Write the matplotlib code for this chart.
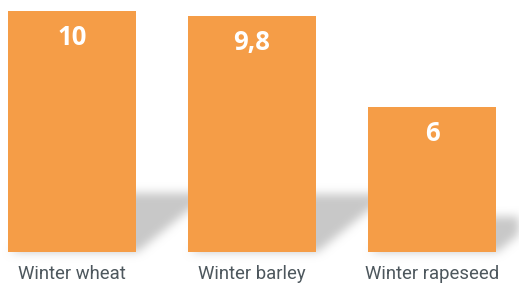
import matplotlib
matplotlib.use("Agg")
import matplotlib.pyplot as plt
from matplotlib.patches import Polygon
import numpy as np

# dados
culturas = ["Winter wheat", "Winter barley", "Winter rapeseed"]
valores = [10, 9.8, 6]
rotulos = ["10", "9,8", "6"]

cor_barra = "#F59D47"
cor_sombra = np.array([200, 200, 200]) / 255.0


def media_movel(a, r, eixo):
    a = np.moveaxis(a, eixo, 0)
    k = 2 * r + 1
    ap = np.pad(a, [(r + 1, r)] + [(0, 0)] * (a.ndim - 1))
    c = np.cumsum(ap, axis=0)
    out = (c[k:] - c[:-k]) / k
    return np.moveaxis(out, 0, eixo)


def desfoque(im, dpi, r=4):
    pad = r * 4
    alfa = np.pad(im[..., 3], pad)
    for _ in range(3):
        alfa = media_movel(alfa, r, 0)
        alfa = media_movel(alfa, r, 1)
    out = np.zeros(alfa.shape + (4,))
    out[..., :3] = cor_sombra
    out[..., 3] = alfa
    return out, -pad, -pad


fig = plt.figure(figsize=(5.19, 2.87), dpi=100)
ax = fig.add_axes([0, 35 / 287, 1, 252 / 287])

x = np.arange(len(culturas))
largura = 128 / 180
barras = ax.bar(x, valores, width=largura, color=cor_barra, zorder=3)

# sombras projetadas atras das barras
for xi, v in zip(x, valores):
    L = xi - largura / 2
    R = xi + largura / 2
    s = 0.245 * v
    dx = 0.041 * v
    p = Polygon([(L, -0.05), (R, -0.05), (R + dx, s), (L + dx, s)],
                closed=True, facecolor="black", edgecolor="none", zorder=1)
    p.set_agg_filter(desfoque)
    p.set_rasterized(True)
    ax.add_patch(p)

for xi, v, t in zip(x, valores, rotulos):
    ax.annotate(t, (xi, v), xytext=(0, -19), textcoords="offset points",
                ha="center", va="center", color="white", fontsize=18.5,
                fontweight="bold", family="Open Sans", zorder=4)

ax.set_xlim(-0.4, 2.483)
ax.set_ylim(0, 10.456)
ax.set_xticks(x)
ax.set_xticklabels(culturas, fontsize=13.3, color="#4d575d", family="Roboto")
ax.tick_params(axis="x", length=0, pad=9.5)
ax.set_yticks([])
for sp in ax.spines.values():
    sp.set_visible(False)
ax.patch.set_visible(False)

fig.savefig("out.png", dpi=100)
